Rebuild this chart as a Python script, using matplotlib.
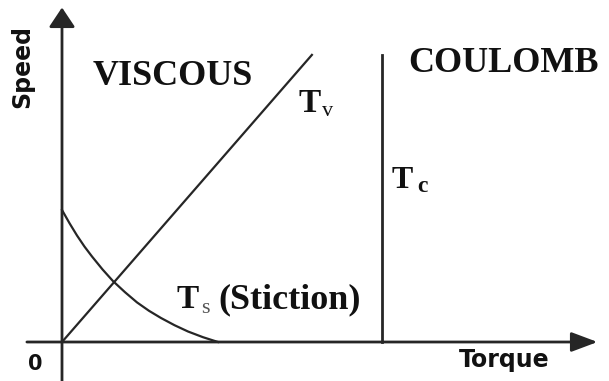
import matplotlib
matplotlib.use('Agg')
import matplotlib.pyplot as plt

# friction model sketch, 1 unit = 30 px of the original picture
viscous_torque = [0, 8.33]
viscous_speed = [0, 9.57]

coulomb_torque = [10.67, 10.67]
coulomb_speed = [0, 9.57]

stiction_torque = [0, 0.25, 0.5, 0.75, 1.0, 1.35, 1.7, 2.1, 2.5, 2.9,
                   3.3, 3.75, 4.2, 4.7, 5.2]
stiction_speed = [4.4, 3.96, 3.55, 3.18, 2.85, 2.42, 2.03, 1.66, 1.32, 1.04,
                  0.8, 0.56, 0.35, 0.16, 0.0]

serif = 'Liberation Serif'
sans = 'DejaVu Sans'
ink = '#111111'
line_col = '#262626'

fig = plt.figure(figsize=(6.09, 3.81), dpi=100)
ax = fig.add_axes([0, 0, 1, 1])
ax.set_xlim(-62 / 30, 547 / 30)
ax.set_ylim(-39 / 30, 342 / 30)
ax.axis('off')

# axes with arrow heads
ax.annotate('', xy=(0, 11.15), xytext=(0, -1.4),
            arrowprops=dict(arrowstyle='-|>,head_length=0.6,head_width=0.4',
                            color=line_col, lw=2.0, mutation_scale=20,
                            shrinkA=0, shrinkB=0))
ax.annotate('', xy=(17.85, 0), xytext=(-1.17, 0),
            arrowprops=dict(arrowstyle='-|>,head_length=0.8,head_width=0.3',
                            color=line_col, lw=2.0, mutation_scale=20,
                            shrinkA=0, shrinkB=0))

ax.plot(viscous_torque, viscous_speed, color=line_col, lw=1.6)
ax.plot(coulomb_torque, coulomb_speed, color=line_col, lw=2.0)
ax.plot(stiction_torque, stiction_speed, color=line_col, lw=1.6)

# labels
ax.text(1.03, 8.57, 'VISCOUS', family=serif, weight='bold', fontsize=26,
        color=ink, ha='left', va='baseline')
ax.text(11.53, 9.0, 'COULOMB', family=serif, weight='bold', fontsize=26,
        color=ink, ha='left', va='baseline')

ax.text(7.87, 7.67, 'T', family=serif, weight='bold', fontsize=24, color=ink,
        ha='left', va='baseline')
ax.text(8.65, 7.55, 'v', family=serif, fontsize=16, color=ink,
        ha='left', va='baseline')

ax.text(11.0, 5.13, 'T', family=serif, weight='bold', fontsize=23, color=ink,
        ha='left', va='baseline')
ax.text(11.83, 5.0, 'c', family=serif, weight='bold', fontsize=17, color=ink,
        ha='left', va='baseline')

ax.text(3.83, 1.13, 'T', family=serif, weight='bold', fontsize=24, color=ink,
        ha='left', va='baseline')
ax.text(4.65, 0.98, 's', family=serif, fontsize=16, color='#555555',
        ha='left', va='baseline')
ax.text(5.2, 1.13, '(Stiction)', family=serif, weight='bold', fontsize=26,
        color=ink, ha='left', va='baseline')

ax.text(-1.33, 9.17, 'Speed', family=sans, weight='bold', fontsize=17,
        color=ink, rotation=90, ha='center', va='center')
ax.text(14.73, -0.6, 'Torque', family=sans, weight='bold', fontsize=17,
        color=ink, ha='center', va='center')
ax.text(-0.9, -0.72, '0', family=sans, weight='bold', fontsize=15,
        color=ink, ha='center', va='center')

fig.savefig('out.png', dpi=100, facecolor='white')
